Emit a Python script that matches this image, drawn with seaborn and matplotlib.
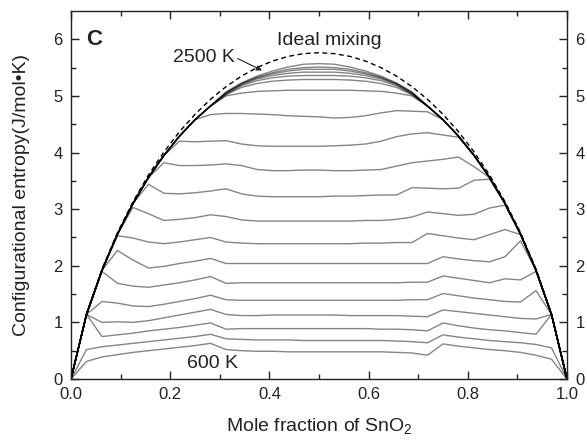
import numpy as np
import pandas as pd
import matplotlib
matplotlib.use("Agg")
import matplotlib.pyplot as plt
import seaborn as sns

# ---- data ----
mole_fraction = [0.0, 0.03125, 0.0625, 0.09375, 0.125, 0.15625, 0.1875, 0.21875, 0.25,
                 0.28125, 0.3125, 0.34375, 0.375, 0.40625, 0.4375, 0.46875, 0.5,
                 0.53125, 0.5625, 0.59375, 0.625, 0.65625, 0.6875, 0.71875, 0.75,
                 0.78125, 0.8125, 0.84375, 0.875, 0.90625, 0.9375, 0.96875, 1.0]

ideal = [0, 1.156, 1.944, 2.587, 3.132, 3.604, 4.012, 4.368, 4.675, 4.940, 5.164, 5.350,
         5.500, 5.616, 5.698, 5.747, 5.763, 5.747, 5.698, 5.616, 5.500, 5.350, 5.164,
         4.940, 4.675, 4.368, 4.012, 3.604, 3.132, 2.587, 1.944, 1.156, 0]

temperatures = [600, 700, 800, 900, 1000, 1100, 1200, 1300, 1400, 1500,
                1600, 1700, 1800, 1900, 2000, 2100, 2200, 2300, 2400, 2500]

s600 = [0, 0.31, 0.39, 0.43, 0.47, 0.50, 0.53, 0.56, 0.59, 0.63, 0.52, 0.50, 0.49, 0.49, 0.48, 0.48, 0.48,
        0.48, 0.48, 0.48, 0.48, 0.47, 0.46, 0.42, 0.62, 0.58, 0.55, 0.52, 0.50, 0.47, 0.42, 0.35, 0]
s700 = [0, 0.52, 0.57, 0.60, 0.63, 0.66, 0.69, 0.72, 0.75, 0.79, 0.71, 0.70, 0.69, 0.69, 0.69, 0.68, 0.68,
        0.68, 0.68, 0.68, 0.68, 0.67, 0.66, 0.64, 0.78, 0.74, 0.71, 0.68, 0.66, 0.64, 0.61, 0.55, 0]
s800 = [0, 1.14, 0.75, 0.78, 0.81, 0.85, 0.88, 0.91, 0.95, 0.99, 0.88, 0.89, 0.89, 0.89, 0.89, 0.89, 0.89,
        0.89, 0.89, 0.89, 0.88, 0.88, 0.87, 0.85, 0.99, 0.94, 0.90, 0.87, 0.85, 0.82, 0.79, 1.14, 0]
s900 = [0, 1.14, 1.00, 1.01, 1.00, 1.03, 1.08, 1.13, 1.18, 1.23, 1.14, 1.12, 1.12, 1.13, 1.13, 1.13, 1.13,
        1.13, 1.12, 1.12, 1.12, 1.12, 1.11, 1.10, 1.22, 1.19, 1.16, 1.13, 1.10, 1.07, 1.06, 1.14, 0]
s1000 = [0, 1.14, 1.37, 1.34, 1.29, 1.28, 1.32, 1.37, 1.42, 1.48, 1.40, 1.39, 1.39, 1.39, 1.39, 1.39, 1.39,
         1.39, 1.39, 1.39, 1.39, 1.39, 1.40, 1.40, 1.51, 1.47, 1.43, 1.40, 1.37, 1.36, 1.56, 1.14, 0]
s1100 = [0, 1.14, 1.90, 1.69, 1.64, 1.62, 1.66, 1.70, 1.75, 1.81, 1.69, 1.70, 1.70, 1.70, 1.70, 1.70, 1.70,
         1.70, 1.70, 1.70, 1.70, 1.70, 1.71, 1.71, 1.82, 1.78, 1.74, 1.70, 1.77, 1.75, 1.90, 1.14, 0]
s1200 = [0, 1.14, 1.92, 2.27, 2.10, 1.96, 1.99, 2.04, 2.08, 2.13, 2.04, 2.04, 2.04, 2.04, 2.04, 2.04, 2.04,
         2.04, 2.04, 2.04, 2.04, 2.04, 2.04, 2.04, 2.16, 2.12, 2.09, 2.07, 2.16, 2.44, 1.92, 1.14, 0]
s1300 = [0, 1.14, 1.92, 2.53, 2.49, 2.42, 2.39, 2.42, 2.46, 2.50, 2.42, 2.40, 2.39, 2.39, 2.39, 2.39, 2.39,
         2.39, 2.39, 2.40, 2.40, 2.41, 2.41, 2.57, 2.53, 2.49, 2.46, 2.55, 2.64, 2.55, 1.92, 1.14, 0]
s1400 = [0, 1.14, 1.92, 2.56, 3.03, 2.92, 2.80, 2.82, 2.85, 2.90, 2.87, 2.81, 2.79, 2.79, 2.79, 2.79, 2.79,
         2.79, 2.79, 2.80, 2.80, 2.82, 2.86, 2.95, 2.92, 2.89, 2.91, 3.02, 3.07, 2.56, 1.92, 1.14, 0]
s1500 = [0, 1.14, 1.92, 2.56, 3.10, 3.44, 3.28, 3.27, 3.29, 3.32, 3.36, 3.27, 3.23, 3.22, 3.22, 3.22, 3.22,
         3.23, 3.23, 3.24, 3.25, 3.25, 3.38, 3.37, 3.36, 3.37, 3.51, 3.53, 3.10, 2.56, 1.92, 1.14, 0]
s1600 = [0, 1.14, 1.92, 2.56, 3.10, 3.56, 3.82, 3.77, 3.77, 3.78, 3.80, 3.77, 3.70, 3.68, 3.68, 3.69, 3.69,
         3.68, 3.68, 3.69, 3.70, 3.76, 3.82, 3.85, 3.88, 3.92, 3.75, 3.56, 3.10, 2.56, 1.92, 1.14, 0]
s1700 = [0, 1.14, 1.92, 2.56, 3.10, 3.56, 3.95, 4.20, 4.19, 4.20, 4.21, 4.15, 4.12, 4.11, 4.11, 4.11, 4.11,
         4.12, 4.13, 4.15, 4.20, 4.28, 4.33, 4.35, 4.31, 4.27, 3.95, 3.56, 3.10, 2.56, 1.92, 1.14, 0]
s1800 = [0, 1.14, 1.92, 2.56, 3.10, 3.56, 3.95, 4.29, 4.58, 4.67, 4.69, 4.69, 4.68, 4.67, 4.65, 4.64, 4.63,
         4.61, 4.62, 4.65, 4.70, 4.74, 4.73, 4.72, 4.58, 4.29, 3.95, 3.56, 3.10, 2.56, 1.92, 1.14, 0]
s1900 = [0, 1.14, 1.92, 2.56, 3.10, 3.56, 3.95, 4.29, 4.58, 4.82, 5.00, 5.05, 5.08, 5.09, 5.10, 5.10, 5.10,
         5.10, 5.10, 5.09, 5.08, 5.05, 5.00, 4.82, 4.58, 4.29, 3.95, 3.56, 3.10, 2.56, 1.92, 1.14, 0]
s2000 = [0, 1.14, 1.92, 2.56, 3.10, 3.56, 3.95, 4.29, 4.58, 4.82, 5.02, 5.15, 5.22, 5.26, 5.28, 5.29, 5.29,
         5.29, 5.28, 5.26, 5.22, 5.15, 5.02, 4.82, 4.58, 4.29, 3.95, 3.56, 3.10, 2.56, 1.92, 1.14, 0]
s2100 = [0, 1.14, 1.92, 2.56, 3.10, 3.56, 3.95, 4.29, 4.58, 4.82, 5.03, 5.18, 5.27, 5.32, 5.35, 5.36, 5.36,
         5.36, 5.35, 5.32, 5.27, 5.18, 5.03, 4.82, 4.58, 4.29, 3.95, 3.56, 3.10, 2.56, 1.92, 1.14, 0]
s2200 = [0, 1.14, 1.92, 2.56, 3.10, 3.56, 3.95, 4.29, 4.58, 4.82, 5.04, 5.20, 5.30, 5.36, 5.40, 5.42, 5.42,
         5.42, 5.40, 5.36, 5.30, 5.20, 5.04, 4.82, 4.58, 4.29, 3.95, 3.56, 3.10, 2.56, 1.92, 1.14, 0]
s2300 = [0, 1.14, 1.92, 2.56, 3.10, 3.56, 3.95, 4.29, 4.58, 4.82, 5.05, 5.21, 5.32, 5.39, 5.44, 5.47, 5.47,
         5.47, 5.44, 5.39, 5.32, 5.21, 5.05, 4.82, 4.58, 4.29, 3.95, 3.56, 3.10, 2.56, 1.92, 1.14, 0]
s2400 = [0, 1.14, 1.92, 2.56, 3.10, 3.56, 3.95, 4.29, 4.58, 4.82, 5.06, 5.22, 5.33, 5.41, 5.47, 5.50, 5.51,
         5.50, 5.47, 5.41, 5.33, 5.22, 5.06, 4.82, 4.58, 4.29, 3.95, 3.56, 3.10, 2.56, 1.92, 1.14, 0]
s2500 = [0, 1.14, 1.92, 2.56, 3.10, 3.56, 3.95, 4.29, 4.58, 4.83, 5.07, 5.23, 5.35, 5.44, 5.51, 5.56, 5.57,
         5.56, 5.51, 5.44, 5.35, 5.23, 5.07, 4.83, 4.58, 4.29, 3.95, 3.56, 3.10, 2.56, 1.92, 1.14, 0]

series = [s600, s700, s800, s900, s1000, s1100, s1200, s1300, s1400, s1500,
          s1600, s1700, s1800, s1900, s2000, s2100, s2200, s2300, s2400, s2500]

x_ticks = [0.0, 0.2, 0.4, 0.6, 0.8, 1.0]
x_tick_labels = ["0.0", "0.2", "0.4", "0.6", "0.8", "1.0"]
y_ticks = [0, 1, 2, 3, 4, 5, 6]

# ---- build long table ----
rows = []
for T, vals in zip(temperatures, series):
    for xv, sv in zip(mole_fraction, vals):
        rows.append({"x": xv, "S": sv, "T": T})
df = pd.DataFrame(rows)
df_ideal = pd.DataFrame({"x": mole_fraction, "S": ideal})

# ---- style ----
sns.set_style("ticks")
plt.rcParams["font.family"] = ["Liberation Sans", "DejaVu Sans"]
plt.rcParams["mathtext.default"] = "regular"
plt.rcParams["axes.linewidth"] = 1.0

fig = plt.figure(figsize=(5.87, 4.43), dpi=100)
ax = fig.add_axes([71 / 587, 1 - 379 / 443, 496 / 587, 368 / 443])

sns.lineplot(data=df, x="x", y="S", hue="T", units="T", estimator=None, sort=False,
             palette={t: "black" for t in temperatures}, alpha=0.48, linewidth=1.0,
             legend=False, ax=ax)
sns.lineplot(data=df_ideal, x="x", y="S", color="black", linestyle=(0, (3.5, 2.5)),
             linewidth=1.0, sort=False, ax=ax)

ax.set_xlim(0, 1)
ax.set_ylim(0, 6.5)
ax.set_xticks(x_ticks)
ax.set_xticklabels(x_tick_labels)
ax.set_yticks(y_ticks)
ax.set_xticks([0.1, 0.3, 0.5, 0.7, 0.9], minor=True)
ax.set_yticks([0.5, 1.5, 2.5, 3.5, 4.5, 5.5], minor=True)
ax.tick_params(which="both", direction="in", top=True, right=True, labelright=True,
               labelsize=12, colors="#222222", width=1.0)
ax.tick_params(which="major", length=6, pad=6)
ax.tick_params(which="minor", length=3.5)
for sp in ax.spines.values():
    sp.set_visible(True)
    sp.set_color("#222222")

ax.set_xlabel("Mole fraction of SnO$_2$", fontsize=14, color="#222222")
ax.set_ylabel("Configurational entropy(J/mol\u2022K)", fontsize=14, color="#222222")
ax.xaxis.set_label_coords(0.5, -0.1)
ax.yaxis.set_label_coords(-0.082, 0.5)

ax.text(0.03, 6.0, "C", fontsize=16, fontweight="bold", ha="left", va="center", color="#222222")
ax.text(0.52, 5.98, "Ideal mixing", fontsize=14, ha="center", va="center", color="#222222")
ax.text(0.268, 5.68, "2500 K", fontsize=14, ha="center", va="center", color="#222222")
ax.text(0.285, 0.28, "600 K", fontsize=14, ha="center", va="center", color="#222222")
ax.annotate("", xy=(0.385, 5.45), xytext=(0.336, 5.66),
            arrowprops=dict(arrowstyle="-|>", color="#222222", lw=0.8, mutation_scale=8,
                            shrinkA=0, shrinkB=0))

fig.savefig("out.png", dpi=100)
